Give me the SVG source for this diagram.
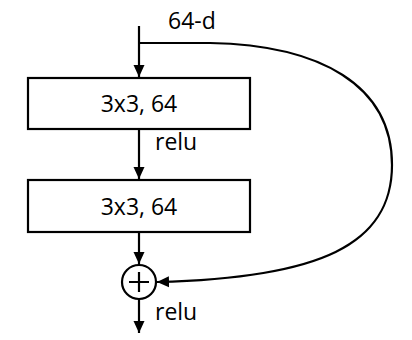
<svg xmlns="http://www.w3.org/2000/svg" width="412" height="340" viewBox="0 0 412 340">
<style>
.ln{fill:none;stroke:#000;stroke-width:2.2}
.box{fill:#fff;stroke:#000;stroke-width:2.2}
text{font-family:"Open Sans","DejaVu Sans",sans-serif;font-size:23px;fill:#000}
</style>
<defs>
<marker id="ah" markerWidth="12" markerHeight="12" refX="12" refY="6" orient="auto" markerUnits="userSpaceOnUse">
<path d="M0,0.5 L12,6 L0,11.5 Z" fill="#000"/>
</marker>
</defs>
<rect width="412" height="340" fill="#fff"/>
<g id="connectors">
<path class="ln" d="M139,26 V77" marker-end="url(#ah)"/>
<path class="ln" d="M139,129 V179" marker-end="url(#ah)"/>
<path class="ln" d="M139,232 V264" marker-end="url(#ah)"/>
<path class="ln" d="M139,299 V333" marker-end="url(#ah)"/>
<path class="ln" d="M139,43 H210 C320,45 392,85 392,165 C392,245 320,278 157,282" marker-end="url(#ah)"/>
</g>
<g id="label-64d"><text x="168" y="29">64-d</text></g>
<g id="conv1">
<rect class="box" x="28" y="78" width="222" height="51"/>
<text x="139" y="112" text-anchor="middle">3x3, 64</text>
</g>
<g id="relu1"><text x="155" y="150">relu</text></g>
<g id="conv2">
<rect class="box" x="28" y="180" width="222" height="52"/>
<text x="139" y="215" text-anchor="middle">3x3, 64</text>
</g>
<g id="add">
<circle class="box" cx="139" cy="282" r="17"/>
<path class="ln" d="M129,282 H149 M139,272 V292"/>
</g>
<g id="relu2"><text x="155" y="320">relu</text></g>
</svg>
